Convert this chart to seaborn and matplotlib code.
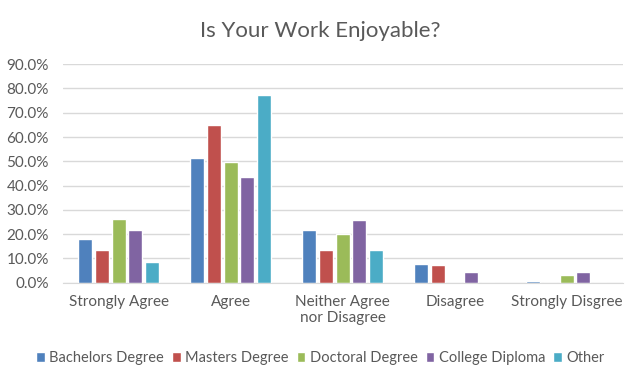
from matplotlib import pyplot as plt
from matplotlib.ticker import PercentFormatter
import pandas as pd
import seaborn as sns

answers = ["Strongly Agree", "Agree", "Neither Agree\nnor Disagree", "Disagree", "Strongly Disgree"]
groups = ["Bachelors Degree", "Masters Degree", "Doctoral Degree", "College Diploma", "Other"]
bachelors = [18.0, 51.3, 21.6, 7.6, 0.7]
masters = [13.5, 64.9, 13.5, 7.2, 0.0]
doctoral = [26.3, 49.8, 19.9, 0.0, 3.0]
college = [21.6, 43.4, 26.0, 4.3, 4.3]
other = [8.7, 77.1, 13.5, 0.0, 0.0]
colors = ["#4F81BD", "#C0504D", "#9BBB59", "#8064A2", "#4BACC6"]

rows = []
for name, vals in zip(groups, [bachelors, masters, doctoral, college, other]):
    for ans, v in zip(answers, vals):
        rows.append({"answer": ans, "group": name, "pct": v / 100})
df = pd.DataFrame(rows)

sns.set_style("white")
plt.rcParams["font.family"] = ["Lato", "DejaVu Sans"]
txt = "#595959"

fig = plt.figure(figsize=(6.4, 3.82), dpi=100)
ax = fig.add_axes([0.098, 0.26, 0.875, 0.572])
sns.barplot(data=df, x="answer", y="pct", hue="group", order=answers,
            hue_order=groups, palette=colors, width=0.745, gap=0.17,
            saturation=1, ax=ax)

ax.set_ylim(0, 0.9)
ax.set_yticks([i / 10 for i in range(10)])
ax.yaxis.set_major_formatter(PercentFormatter(1.0, decimals=1))
ax.set_xlim(-0.5, 4.5)
ax.grid(axis="y", color="#D9D9D9", linewidth=1)
ax.set_axisbelow(True)
for s in ["top", "left", "right"]:
    ax.spines[s].set_visible(False)
ax.spines["bottom"].set_color("#D9D9D9")
ax.tick_params(axis="both", length=0, labelsize=11, colors=txt)
ax.tick_params(axis="y", pad=10)
ax.tick_params(axis="x", pad=9)
ax.set_xlabel("")
ax.set_ylabel("")
# title is centred on the figure, not the axes
fig.text(0.5, 0.92, "Is Your Work Enjoyable?", fontsize=16, color=txt,
         ha="center", va="center")

handles, labels = ax.get_legend_handles_labels()
ax.legend(handles, labels, loc="center", bbox_to_anchor=(0.46, -0.345), ncol=5,
          frameon=False, fontsize=10.5, handlelength=0.6, handleheight=0.6,
          handletextpad=0.3, columnspacing=0.55, labelcolor=txt)

plt.savefig("out.png", dpi=100)
